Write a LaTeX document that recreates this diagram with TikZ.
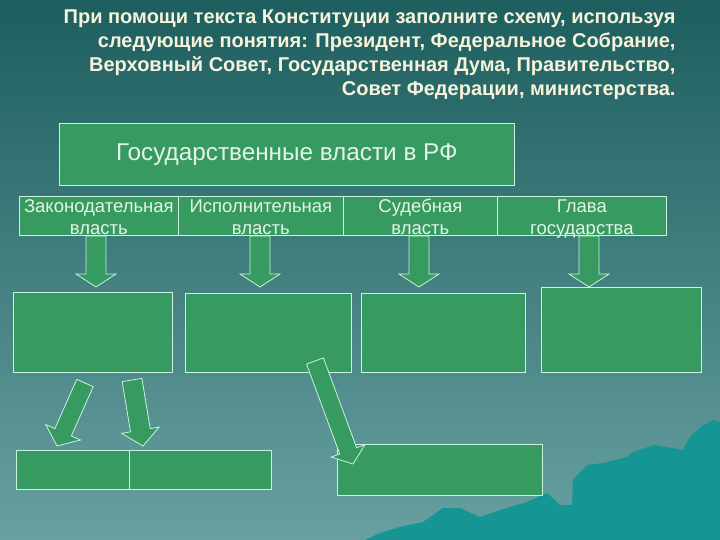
\documentclass[tikz,border=0pt]{standalone}
\usepackage{fontspec}
\setmainfont{Liberation Sans}
\usetikzlibrary{calc}
\definecolor{boxgreen}{HTML}{369A61}
\definecolor{edgecol}{HTML}{C9F2DF}
\definecolor{titlecol}{HTML}{F7F3DA}
\definecolor{labelcol}{HTML}{E4F4E6}
\definecolor{bgtop}{HTML}{1D5E5F}
\definecolor{bgmid}{HTML}{4C898A}
\definecolor{bgbot}{HTML}{68A0A0}
\definecolor{mountcol}{HTML}{169595}
% tail, tip, half shaft width, half head width, head length
\newcommand{\blockarrow}[5]{%
  \coordinate (hb) at ($(#2)!#5!(#1)$);
  \filldraw[arrowbody] ($(#1)!#3!90:(#2)$) -- ($(hb)!#3!-90:(#1)$) -- ($(hb)!#4!-90:(#1)$) -- (#2) -- ($(hb)!#4!90:(#1)$) -- ($(hb)!#3!90:(#1)$) -- ($(#1)!#3!-90:(#2)$) -- cycle;}
\begin{document}
\begin{tikzpicture}[x=1pt,y=-1pt,
  box/.style={draw=edgecol, fill=boxgreen, line width=0.8pt, inner sep=0pt, anchor=north west},
  headbox/.style={box, minimum height=39pt},
  headlabel/.style={inner sep=0pt, text=labelcol, align=center, font=\fontsize{18.5}{22}\selectfont, yshift=-3pt},
  arrowbody/.style={draw=edgecol, fill=boxgreen, line width=0.8pt, line join=miter}]
\useasboundingbox (0,0) rectangle (720,540);
\shade[top color=bgtop, middle color=bgmid, bottom color=bgbot] (0,0) rectangle (720,540);
\fill[mountcol] (365,540) -- (380,533) -- (400,527) -- (423,522) -- (443,508) -- (460,508) -- (480,517) -- (500,510) -- (527,502) -- (547,493) -- (560,505) -- (572,505) -- (573,480) -- (587,465) -- (603,463) -- (627,457) -- (633,452) -- (653,445) -- (673,448) -- (683,450) -- (690,437) -- (703,425) -- (713,420) -- (720,422) -- (720,540) -- cycle;

\node[anchor=north east, align=right, text=titlecol, font=\bfseries\fontsize{20}{24}\selectfont] (title) at (679,6)
 {При помощи текста Конституции заполните схему, используя\\
  следующие понятия: Президент, Федеральное Собрание,\\
  Верховный Совет, Государственная Дума, Правительство,\\
  Совет Федерации, министерства.};

\node[box, minimum width=455pt, minimum height=62pt, text=labelcol, font=\fontsize{24.3}{26}\selectfont] (top) at (59,123) {Государственные власти в РФ};

\node[headbox, minimum width=159pt] (leg) at (19,196) {};
\node[headbox, minimum width=165pt] (exe) at (178,196) {};
\node[headbox, minimum width=154pt] (jud) at (343,196) {};
\node[headbox, minimum width=169pt] (head) at (497,196) {};
\node[headlabel] (legt) at (leg.center) {\strut Законодательная\\\strut власть};
\node[headlabel] (exet) at (exe.center) {\strut Исполнительная\\\strut власть};
\node[headlabel] (judt) at (jud.center) {\strut Судебная\\\strut власть};
\node[headlabel] (headt) at (head.center) {\strut Глава\\\strut государства};

\node[box, minimum width=159pt, minimum height=80pt] (bA) at (13,292) {};
\node[box, minimum width=166pt, minimum height=79pt] (bB) at (185,293) {};
\node[box, minimum width=164pt, minimum height=79pt] (bC) at (361,293) {};
\node[box, minimum width=160pt, minimum height=85pt] (bD) at (541,287) {};

\node[box, minimum width=113pt, minimum height=39pt] (bL1) at (16,450) {};
\node[box, minimum width=142pt, minimum height=39pt] (bL2) at (129,450) {};
\node[box, minimum width=205pt, minimum height=51pt] (bR) at (337,444) {};

\coordinate (t1) at (96,236);  \coordinate (p1) at (96,287);
\coordinate (t2) at (260,236); \coordinate (p2) at (260,287);
\coordinate (t3) at (419,236); \coordinate (p3) at (419,287);
\coordinate (t4) at (589,236); \coordinate (p4) at (589,287);
\coordinate (t5) at (85,383);  \coordinate (p5) at (57,446);
\coordinate (t6) at (132,380); \coordinate (p6) at (143,446);
\coordinate (t7) at (315,361); \coordinate (p7) at (353,464);

\blockarrow{t1}{p1}{10pt}{20pt}{13pt}
\blockarrow{t2}{p2}{10pt}{20pt}{13pt}
\blockarrow{t3}{p3}{10pt}{20pt}{13pt}
\blockarrow{t4}{p4}{10pt}{20pt}{13pt}
\blockarrow{t5}{p5}{9pt}{19pt}{15pt}
\blockarrow{t6}{p6}{10pt}{19pt}{16pt}
\blockarrow{t7}{p7}{9pt}{18pt}{14pt}
\end{tikzpicture}
\end{document}
